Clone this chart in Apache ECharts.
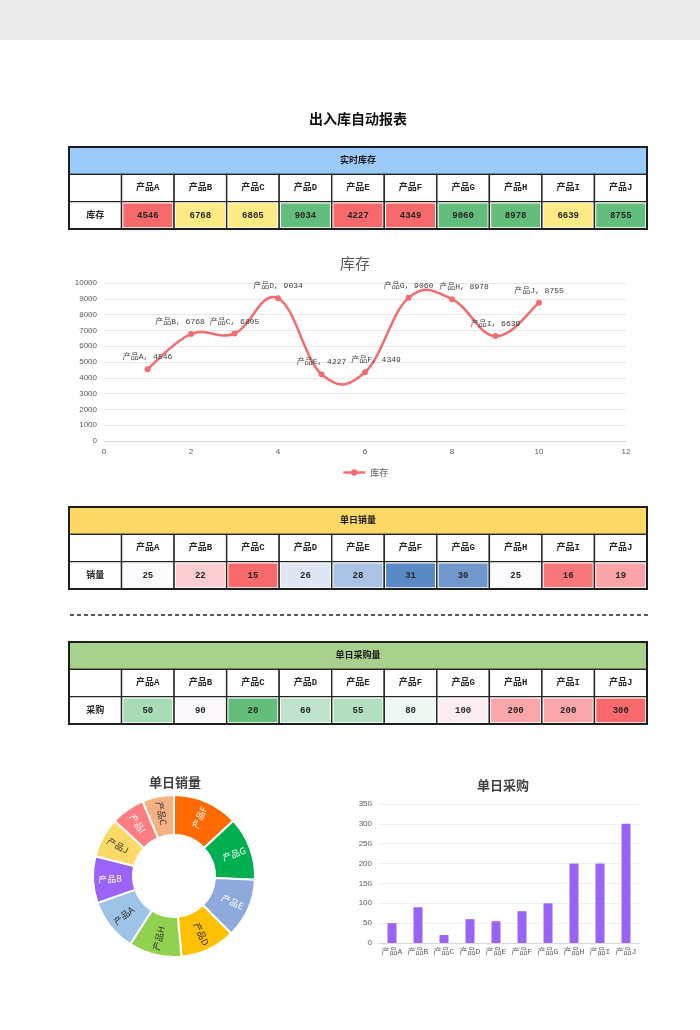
<!DOCTYPE html>
<html>
<head>
<meta charset="utf-8">
<script src="https://cdn.jsdelivr.net/npm/echarts@6.0.0/dist/echarts.min.js"></script>
<style>
html,body{margin:0;padding:0;background:#fff;}
#chart{width:700px;height:1030px;}
</style>
</head>
<body>
<div id="chart"></div>
<script>
// ---------------- data ----------------
const products = ['产品A','产品B','产品C','产品D','产品E','产品F','产品G','产品H','产品I','产品J'];
const stock    = [4546, 6768, 6805, 9034, 4227, 4349, 9060, 8978, 6639, 8755];
const stockX   = [1, 2, 3, 4, 5, 6, 7, 8, 9, 10];
const sales    = [25, 22, 15, 26, 28, 31, 30, 25, 16, 19];
const purchase = [50, 90, 20, 60, 55, 80, 100, 200, 200, 300];
const pieOrder = ['产品F','产品G','产品E','产品D','产品H','产品A','产品B','产品J','产品I','产品C'];

// ---------------- styles ----------------
const stockFill = ['#F8696B','#FFEB84','#FFEB84','#63BE7B','#F8696B','#F8696B','#63BE7B','#63BE7B','#FFEB84','#63BE7B'];
const salesFill = ['#FCFCFF','#FBCDD1','#F8696B','#DFE7F4','#AAC2E3','#5A8AC6','#7098CC','#FCFCFF','#F8777A','#FAA4A7'];
const purchFill = ['#A9DBB7','#FAF8FC','#63BE7B','#C0E4CB','#B4DFC1','#EFF7F2','#FCEDF0','#F9A5A9','#F9A5A9','#F8696B'];
const labelShiftX = [0, -11, 0, 0, 0, 11, 0, 12, 0, 0];
const pieColors = {'产品F':'#FF6B02','产品G':'#00B050','产品E':'#8EA9DB','产品D':'#FFC000','产品H':'#92D050',
                   '产品A':'#9DC3E6','产品B':'#9B63F7','产品J':'#FFD966','产品I':'#FF7C80','产品C':'#F4B183'};
const pieLight = {'产品F':1,'产品G':1,'产品E':1,'产品B':1,'产品I':1};
const lineColor = '#F36D70';
const curveTension = 0.2;
const cellFont = 'bold 9px "Liberation Mono","Noto Sans CJK SC",monospace';

function makeCells(title, headFill, rowLabel, values, fills) {
  const cells = [];
  cells.push({value:[0,0], kind:'title', text:title, fill:headFill});
  cells.push({value:[0,1], text:'', fill:'#FFFFFF'});
  products.forEach((p,i)=>cells.push({value:[i+1,1], text:p, fill:'#FFFFFF'}));
  cells.push({value:[0,2], text:rowLabel, fill:'#FFFFFF'});
  values.forEach((v,i)=>cells.push({value:[i+1,2], text:String(v), fill:fills[i]}));
  return cells;
}

function tableSeries(idx, cells) {
  return {
    type:'custom', xAxisIndex:idx, yAxisIndex:idx, silent:true,
    data: cells.map(c=>c.value),
    encode:{x:0, y:1},
    renderItem:function(params, api){
      const cell = cells[params.dataIndex];
      const s = api.size([1,1]); const w = s[0], h = s[1];
      const children = [];
      if (cell.kind === 'title') {
        const a = api.coord([0,0]), b = api.coord([10,0]), c = api.coord([10,2]);
        const x0 = a[0]-w/2, y0 = a[1]-h/2, ww = b[0]+w/2-x0;
        children.push({type:'rect', shape:{x:x0, y:y0, width:ww, height:h}, style:{fill:cell.fill, stroke:'#262626', lineWidth:1.4}});
        children.push({type:'rect', z2:10, shape:{x:x0, y:y0, width:ww, height:c[1]+h/2-y0}, style:{fill:'none', stroke:'#1E1E1E', lineWidth:2}});
        children.push({type:'text', z2:11, style:{text:cell.text, x:x0+ww/2, y:y0+h/2, align:'center', verticalAlign:'middle', font:cellFont, fill:'#1A1A1A'}});
        return {type:'group', children};
      }
      const c = api.coord([api.value(0), api.value(1)]);
      const x0 = c[0]-w/2, y0 = c[1]-h/2;
      children.push({type:'rect', shape:{x:x0, y:y0, width:w, height:h}, style:{fill:'#FFFFFF', stroke:'#262626', lineWidth:1.4}});
      children.push({type:'rect', shape:{x:x0+1.8, y:y0+1.8, width:w-3.6, height:h-3.6}, style:{fill:cell.fill}});
      children.push({type:'text', z2:5, style:{text:cell.text, x:c[0], y:c[1], align:'center', verticalAlign:'middle', font:cellFont, fill:'#262626'}});
      return {type:'group', children};
    }
  };
}

const tableX = {type:'category', data:['', ...products], show:false};
const tableY = {type:'category', data:['title','header','value'], inverse:true, show:false};

const cells1 = makeCells('实时库存', '#9BCBFB', '库存', stock, stockFill);
const cells2 = makeCells('单日销量', '#FFD966', '销量', sales, salesFill);
const cells3 = makeCells('单日采购量', '#A9D18E', '采购', purchase, purchFill);

const axisFont = {fontSize:8, color:'#595959', fontFamily:'"Liberation Sans","Noto Sans CJK SC",sans-serif'};
const monoFont = '"Liberation Mono","Noto Sans CJK SC",monospace';

// smooth curve (Excel-like Catmull-Rom) through the stock points, positioned by the axes
const curveSeries = {
  type:'custom', xAxisIndex:1, yAxisIndex:1, silent:true, z:2,
  data: stock.map((v,i)=>[stockX[i], v]),
  encode:{x:0, y:1},
  renderItem:function(params, api){
    const i = params.dataIndex, n = stock.length;
    if (i >= n-1) return null;
    const P = j => api.coord([stockX[Math.max(0, Math.min(n-1, j))], stock[Math.max(0, Math.min(n-1, j))]]);
    const p0 = P(i-1), p1 = P(i), p2 = P(i+1), p3 = P(i+2);
    const k = curveTension;
    return {
      type:'bezierCurve',
      shape:{x1:p1[0], y1:p1[1], x2:p2[0], y2:p2[1],
             cpx1:p1[0]+(p2[0]-p0[0])*k, cpy1:p1[1]+(p2[1]-p0[1])*k,
             cpx2:p2[0]-(p3[0]-p1[0])*k, cpy2:p2[1]-(p3[1]-p1[1])*k},
      style:{stroke:lineColor, lineWidth:2.5, fill:null, lineCap:'round'}
    };
  }
};

const option = {
  backgroundColor:'#FFFFFF',
  animation:false,
  graphic:[
    {type:'rect', shape:{x:0, y:0, width:700, height:40}, style:{fill:'#EBEBEB'}},
    {type:'text', x:358, y:119, style:{text:'出入库自动报表', align:'center', verticalAlign:'middle', font:'bold 14px "Noto Sans CJK SC",sans-serif', fill:'#111'}},
    {type:'text', x:355, y:263, style:{text:'库存', align:'center', verticalAlign:'middle', font:'15px "Noto Sans CJK SC",sans-serif', fill:'#595959'}},
    {type:'line', shape:{x1:70, y1:615, x2:648, y2:615}, style:{stroke:'#222', lineWidth:1.4, lineDash:[4,3]}},
    {type:'text', x:175, y:782, style:{text:'单日销量', align:'center', verticalAlign:'middle', font:'bold 13px "Noto Sans CJK SC",sans-serif', fill:'#404040'}},
    {type:'text', x:503, y:785, style:{text:'单日采购', align:'center', verticalAlign:'middle', font:'bold 13px "Noto Sans CJK SC",sans-serif', fill:'#404040'}}
  ],
  legend:{data:[{name:'库存', lineStyle:{opacity:1, color:lineColor, width:2.5}}], left:337, top:463, itemWidth:22, itemHeight:8, itemGap:4,
          textStyle:{fontSize:9, color:'#595959', fontFamily:'"Noto Sans CJK SC",sans-serif'}},
  grid:[
    {left:69, top:147, width:578, height:82},
    {left:104, top:283, width:522, height:158},
    {left:69, top:507, width:578, height:82},
    {left:69, top:642, width:578, height:82},
    {left:379, top:804, width:260, height:139}
  ],
  xAxis:[
    Object.assign({gridIndex:0}, tableX),
    {gridIndex:1, type:'value', min:0, max:12, interval:2,
     axisLine:{show:true, lineStyle:{color:'#D9D9D9', width:1}}, axisTick:{show:false},
     splitLine:{show:false}, axisLabel:Object.assign({margin:7}, axisFont)},
    Object.assign({gridIndex:2}, tableX),
    Object.assign({gridIndex:3}, tableX),
    {gridIndex:4, type:'category', data:products,
     axisLine:{show:true, lineStyle:{color:'#D9D9D9'}}, axisTick:{show:false},
     axisLabel:{fontSize:8, color:'#595959', fontFamily:monoFont, margin:5, interval:0}}
  ],
  yAxis:[
    Object.assign({gridIndex:0}, tableY),
    {gridIndex:1, type:'value', min:0, max:10000, interval:1000,
     axisLine:{show:false}, axisTick:{show:false},
     splitLine:{lineStyle:{color:'#E8E8E8'}},
     axisLabel:Object.assign({margin:7, formatter:v=>String(v)}, axisFont)},
    Object.assign({gridIndex:2}, tableY),
    Object.assign({gridIndex:3}, tableY),
    {gridIndex:4, type:'value', min:0, max:350, interval:50,
     axisLine:{show:false}, axisTick:{show:false},
     splitLine:{lineStyle:{color:'#F0F0F0'}}, axisLabel:Object.assign({margin:7}, axisFont)}
  ],
  series:[
    tableSeries(0, cells1),
    curveSeries,
    {
      name:'库存', type:'line', xAxisIndex:1, yAxisIndex:1, z:3,
      data: stock.map((v,i)=>({value:[stockX[i], v], label:{offset:[labelShiftX[i], 0]}})),
      symbol:'circle', symbolSize:6,
      lineStyle:{color:lineColor, width:2.5, opacity:0},
      itemStyle:{color:lineColor},
      label:{show:true, position:'top', distance:5, fontSize:8, color:'#404040', fontFamily:monoFont,
             formatter:function(p){return products[p.dataIndex] + ', ' + stock[p.dataIndex];}}
    },
    tableSeries(2, cells2),
    tableSeries(3, cells3),
    {
      name:'单日采购', type:'bar', xAxisIndex:4, yAxisIndex:4, data:purchase, barWidth:9,
      itemStyle:{color:'#9A63F8'}
    },
    {
      name:'单日销量', type:'pie', center:[174, 876], radius:[41, 81], startAngle:90, clockwise:true,
      avoidLabelOverlap:false,
      itemStyle:{borderColor:'#FFFFFF', borderWidth:2},
      label:{show:true, position:'inside', rotate:'radial', fontSize:9, fontFamily:'"Noto Sans CJK SC",sans-serif'},
      labelLine:{show:false},
      data: pieOrder.map(n=>({
        name:n, value:sales[products.indexOf(n)],
        itemStyle:{color:pieColors[n]},
        label:{color: pieLight[n] ? '#FFFFFF' : '#333333'}
      }))
    }
  ]
};

const chart = echarts.init(document.getElementById('chart'), null, {renderer:'canvas'});
chart.setOption(option);
</script>
</body>
</html>
